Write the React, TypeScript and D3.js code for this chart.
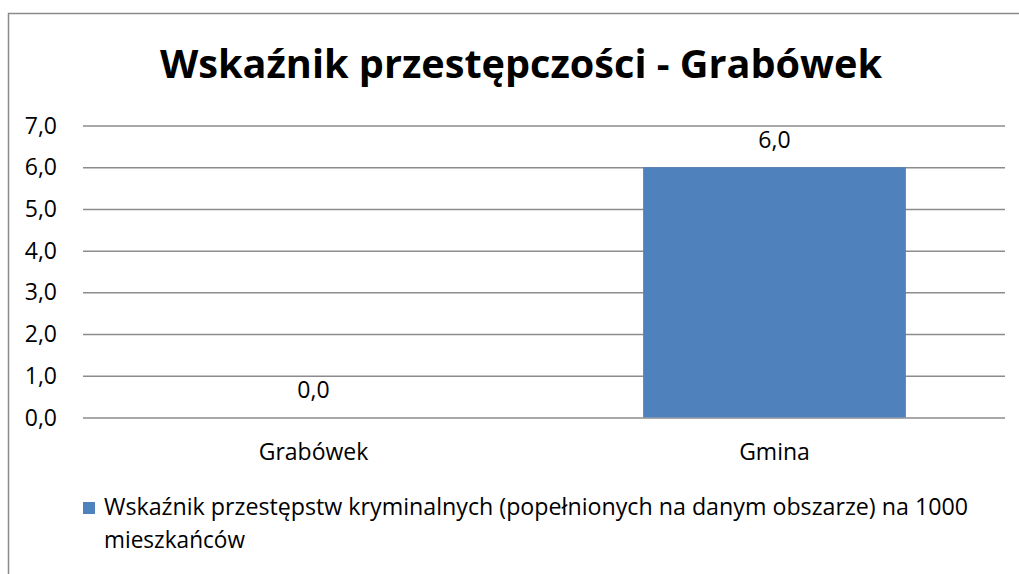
import React, { useEffect, useRef } from 'react';
import * as d3 from 'd3';

const categories = ['Grabówek', 'Gmina'];
const values = [0.0, 6.0];
const yTicks = [0, 1, 2, 3, 4, 5, 6, 7];
const title = 'Wskaźnik przestępczości - Grabówek';
const legendLines = [
  'Wskaźnik przestępstw kryminalnych (popełnionych na danym obszarze) na 1000',
  'mieszkańców',
];

const W = 1019;
const H = 574;
const FONT = '"Open Sans", "Noto Sans", sans-serif';

export default function App() {
  const ref = useRef<SVGSVGElement>(null);

  useEffect(() => {
    const svg = d3.select(ref.current);
    svg.selectAll('*').remove();

    const fmt = (v: number) => v.toFixed(1).replace('.', ',');

    // chart border (top and left visible)
    svg
      .append('path')
      .attr('d', `M8.5,${H} L8.5,13.5 L${W},13.5`)
      .attr('fill', 'none')
      .attr('stroke', '#8a8a8a')
      .attr('stroke-width', 1.5);

    svg
      .append('text')
      .attr('x', 160)
      .attr('y', 78)
      .attr('textLength', 722)
      .attr('lengthAdjust', 'spacingAndGlyphs')
      .style('font-family', FONT)
      .style('font-weight', 'bold')
      .style('font-size', '40px')
      .style('fill', '#000')
      .text(title);

    const x = d3
      .scaleBand()
      .domain(categories)
      .range([83, 1005])
      .paddingInner(0.43)
      .paddingOuter(0.215);

    const y = d3.scaleLinear().domain([0, 7]).range([417.5, 125.5]);

    const yAxisGrid = d3
      .axisLeft(y)
      .tickValues(yTicks)
      .tickSize(-(1005 - 83))
      .tickFormat(() => '');

    const grid = svg
      .append('g')
      .attr('transform', 'translate(83,0)')
      .call(yAxisGrid);
    grid.select('.domain').remove();
    grid
      .selectAll('line')
      .attr('stroke', '#8c8c8c')
      .attr('stroke-width', 1.5);

    svg
      .selectAll('.ytick')
      .data(yTicks)
      .enter()
      .append('text')
      .attr('class', 'ytick')
      .attr('x', 57)
      .attr('y', d => y(d) + 8)
      .attr('text-anchor', 'end')
      .style('font-family', FONT)
      .style('font-size', '23px')
      .style('fill', '#000')
      .text(d => fmt(d));

    svg
      .selectAll('.bar')
      .data(values)
      .enter()
      .append('rect')
      .attr('class', 'bar')
      .attr('x', (d, i) => x(categories[i]) as number)
      .attr('y', d => y(d))
      .attr('width', x.bandwidth())
      .attr('height', d => y(0) - y(d))
      .attr('fill', '#4f81bd');

    svg
      .selectAll('.label')
      .data(values)
      .enter()
      .append('text')
      .attr('class', 'label')
      .attr('x', (d, i) => (x(categories[i]) as number) + x.bandwidth() / 2)
      .attr('y', d => y(d) - 19.5)
      .attr('text-anchor', 'middle')
      .style('font-family', FONT)
      .style('font-size', '23px')
      .style('fill', '#000')
      .text(d => fmt(d));

    svg
      .selectAll('.cat')
      .data(categories)
      .enter()
      .append('text')
      .attr('class', 'cat')
      .attr('x', d => (x(d) as number) + x.bandwidth() / 2)
      .attr('y', 460)
      .attr('text-anchor', 'middle')
      .style('font-family', FONT)
      .style('font-size', '23px')
      .style('fill', '#000')
      .text(d => d);

    // legend
    svg
      .append('rect')
      .attr('x', 83)
      .attr('y', 502)
      .attr('width', 12)
      .attr('height', 12)
      .attr('fill', '#4f81bd');

    svg
      .selectAll('.legend')
      .data(legendLines)
      .enter()
      .append('text')
      .attr('class', 'legend')
      .attr('x', 104)
      .attr('y', (d, i) => 515 + i * 33)
      .attr('textLength', (d, i) => (i === 0 ? 864 : 141))
      .attr('lengthAdjust', 'spacingAndGlyphs')
      .style('font-family', FONT)
      .style('font-size', '23px')
      .style('fill', '#000')
      .text(d => d);
  }, []);

  return (
    <svg
      ref={ref}
      width={W}
      height={H}
      style={{ position: 'absolute', left: 0, top: 0, background: '#fff' }}
    />
  );
}
